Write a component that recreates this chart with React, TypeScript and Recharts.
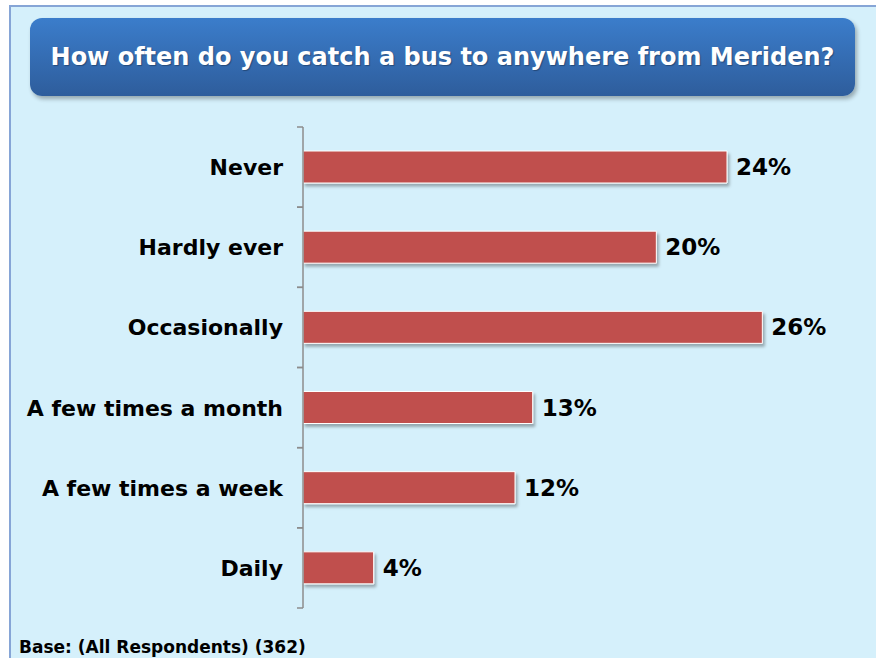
import { BarChart, Bar, XAxis, YAxis, LabelList } from 'recharts'

const categories = ['Never', 'Hardly ever', 'Occasionally', 'A few times a month', 'A few times a week', 'Daily']
const shares = [24, 20, 26, 13, 12, 4]
const xTicks = [0, 5, 10, 15, 20, 25, 30]

const chartData = categories.map((c, i) => ({ category: c, share: shares[i] }))

const FONT = '"DejaVu Sans", Verdana, sans-serif'

function CategoryTick(props: any) {
  const { x, y, payload } = props
  const half = payload?.offset ?? 40
  // axis line sits tickSize + tickMargin to the right of the label anchor
  const axisX = x + 20
  return (
    <g>
      <line x1={axisX - 6} x2={axisX} y1={y - half} y2={y - half} stroke="#8c8c8c" strokeWidth={1.5} />
      <line x1={axisX - 6} x2={axisX} y1={y + half} y2={y + half} stroke="#8c8c8c" strokeWidth={1.5} />
      <text
        x={x}
        y={y}
        dy={8}
        textAnchor="end"
        fontFamily={FONT}
        fontWeight="bold"
        fontSize={22}
        fill="#000"
      >
        {payload.value}
      </text>
    </g>
  )
}

export default function App() {
  return (
    <div style={{ position: 'absolute', left: 0, top: 0, width: 876, height: 658, overflow: 'hidden', fontFamily: FONT }}>
      <svg width={0} height={0} style={{ position: 'absolute' }}>
        <defs>
          <filter id="barShadow" x="-5%" y="-20%" width="115%" height="160%">
            <feDropShadow dx="2" dy="3" stdDeviation="1.5" floodColor="#000" floodOpacity="0.3" />
          </filter>
        </defs>
      </svg>
      <div
        style={{
          position: 'absolute',
          left: 9,
          top: 5,
          width: 900,
          height: 700,
          background: '#d5f0fb',
          border: '2px solid #86a5d6',
        }}
      />
      <div
        style={{
          position: 'absolute',
          left: 30,
          top: 18,
          width: 825,
          height: 78,
          borderRadius: 12,
          background: 'linear-gradient(#3b7dcb, #2e5d9c)',
          boxShadow: '2px 3px 4px rgba(0,0,0,0.3)',
          color: '#fff',
          fontWeight: 'bold',
          fontSize: 24,
          lineHeight: '78px',
          textAlign: 'center',
          textShadow: '1px 1px 1px rgba(0,0,0,0.3)',
        }}
      >
        How often do you catch a bus to anywhere from Meriden?
      </div>
      <div style={{ position: 'absolute', left: 0, top: 0 }}>
        <BarChart
          width={876}
          height={658}
          data={chartData}
          layout="vertical"
          margin={{ top: 127, right: 43, bottom: 50, left: 0 }}
        >
          <XAxis type="number" domain={[0, 30]} ticks={xTicks} hide />
          <YAxis
            type="category"
            dataKey="category"
            width={303}
            tickSize={6}
            tickMargin={14}
            tickLine={false}
            axisLine={{ stroke: '#8c8c8c', strokeWidth: 1.5 }}
            tick={<CategoryTick />}
            interval={0}
          />
          <Bar
            dataKey="share"
            fill="#c0504d"
            stroke="#ffffff"
            strokeWidth={1}
            barSize={32}
            filter="url(#barShadow)"
            isAnimationActive={false}
          >
            <LabelList
              dataKey="share"
              position="right"
              offset={9}
              formatter={(v: any) => `${v}%`}
              style={{ fontFamily: FONT, fontWeight: 'bold', fontSize: 23, fill: '#000' }}
            />
          </Bar>
        </BarChart>
      </div>
      <div
        style={{
          position: 'absolute',
          left: 19,
          top: 637,
          fontWeight: 'bold',
          fontSize: 17,
          color: '#000',
          whiteSpace: 'nowrap',
        }}
      >
        Base: (All Respondents) (362)
      </div>
    </div>
  )
}
